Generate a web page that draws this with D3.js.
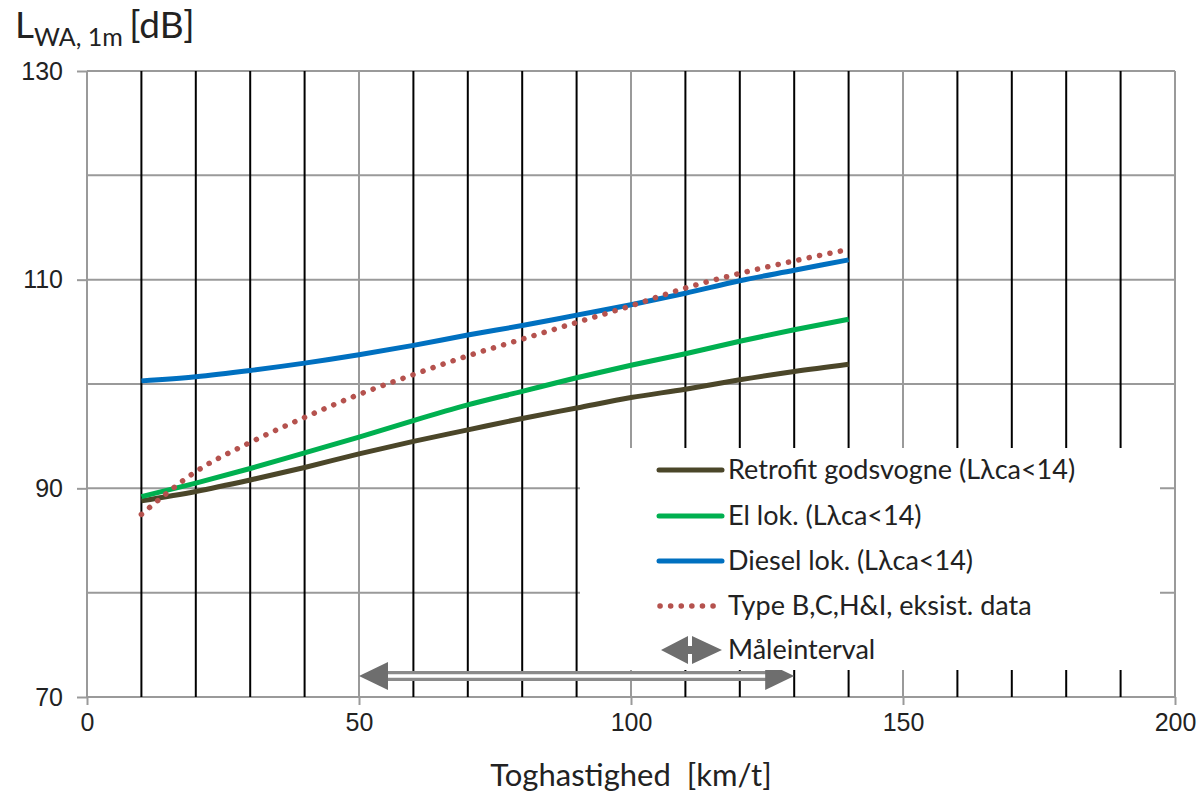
<!DOCTYPE html>
<html>
<head>
<meta charset="utf-8">
<script src="https://cdn.jsdelivr.net/npm/d3@7"></script>
<style>
  body { margin: 0; background: #fff; }
  svg { font-family: Lato, "Open Sans", sans-serif; }
</style>
</head>
<body>
<div id="chart"></div>
<script>
// speeds in km/t
const speeds = [10, 20, 30, 40, 50, 60, 70, 80, 90, 100, 110, 120, 130, 140];
const retrofit = [88.8, 89.7, 90.8, 92.0, 93.3, 94.5, 95.6, 96.7, 97.7, 98.7, 99.5, 100.4, 101.2, 101.9];
const elLok = [89.2, 90.5, 91.9, 93.4, 94.9, 96.5, 98.0, 99.3, 100.6, 101.8, 102.9, 104.1, 105.2, 106.2];
const dieselLok = [100.3, 100.7, 101.3, 102.0, 102.8, 103.7, 104.7, 105.6, 106.6, 107.6, 108.7, 109.9, 110.9, 111.9];
const typeBCHI = [87.5, 91.6, 94.4, 96.8, 99.0, 100.9, 102.7, 104.3, 105.9, 107.5, 109.2, 110.6, 111.8, 112.9];
const maaleinterval = [50, 130];

const xTicks = [0, 50, 100, 150, 200];
const xMinor = d3.range(10, 200, 10).filter(v => v % 50 !== 0);
const yTicks = [70, 90, 110, 130];
const yGrid = d3.range(70, 131, 10);

const seriesNames = ["Retrofit godsvogne (Lλca<14)", "El lok. (Lλca<14)", "Diesel lok. (Lλca<14)", "Type B,C,H&I, eksist. data"];
const seriesColors = ["#4b4629", "#00b050", "#0070c0", "#b5524e"];
const seriesValues = [retrofit, elLok, dieselLok, typeBCHI];

const width = 1202, height = 803;
const margin = {left: 87, top: 71, right: 27, bottom: 106};

const svg = d3.select("#chart").append("svg")
    .attr("width", width)
    .attr("height", height);

const x = d3.scaleLinear().domain([0, 200]).range([margin.left, width - margin.right]);
const y = d3.scaleLinear().domain([70, 130]).range([height - margin.bottom, margin.top]);

const grey = "#9a9a9a";

// horizontal gridlines
svg.append("g")
    .selectAll("line")
    .data(yGrid)
    .enter().append("line")
    .attr("x1", x(0)).attr("x2", x(200))
    .attr("y1", d => y(d)).attr("y2", d => y(d))
    .attr("stroke", grey)
    .attr("stroke-width", 2);

// grey verticals at 0/50/100/150/200
svg.append("g")
    .selectAll("line")
    .data(xTicks)
    .enter().append("line")
    .attr("x1", d => x(d)).attr("x2", d => x(d))
    .attr("y1", y(130)).attr("y2", y(70))
    .attr("stroke", grey)
    .attr("stroke-width", 2);

// black verticals every 10
svg.append("g")
    .selectAll("line")
    .data(xMinor)
    .enter().append("line")
    .attr("x1", d => x(d)).attr("x2", d => x(d))
    .attr("y1", y(130)).attr("y2", y(70))
    .attr("stroke", "#000")
    .attr("stroke-width", 2);

// axes
const yAxis = svg.append("g")
    .attr("transform", `translate(${x(0)},0)`)
    .call(d3.axisLeft(y).tickValues(yTicks).tickSize(10).tickPadding(14).tickFormat(d3.format("d")));
const xAxis = svg.append("g")
    .attr("transform", `translate(0,${y(70)})`)
    .call(d3.axisBottom(x).tickValues(xTicks).tickSize(8).tickPadding(8).tickFormat(d3.format("d")));
[xAxis, yAxis].forEach(a => {
    a.select(".domain").remove();
    a.selectAll("line").attr("stroke", grey).attr("stroke-width", 2);
    a.selectAll("text").attr("fill", "#222").style("font-size", "25px");
});

// series
const line = d3.line()
    .x((d, i) => x(speeds[i]))
    .y(d => y(d))
    .curve(d3.curveMonotoneX);

seriesValues.forEach((vals, i) => {
    const p = svg.append("path")
        .datum(vals)
        .attr("d", line)
        .attr("fill", "none")
        .attr("stroke", seriesColors[i])
        .attr("stroke-width", 5);
    if (i === 3) {
        p.attr("stroke-dasharray", "0.1 10.5").attr("stroke-linecap", "round").attr("stroke-width", 5.5);
    }
});

// measurement interval arrow
const arrowY = 676;
const ag = svg.append("g");
ag.append("line")
    .attr("x1", x(maaleinterval[0]) + 25).attr("x2", x(maaleinterval[1]) - 25)
    .attr("y1", arrowY).attr("y2", arrowY)
    .attr("stroke", "#8a8a8a").attr("stroke-width", 10);
ag.append("line")
    .attr("x1", x(maaleinterval[0]) + 25).attr("x2", x(maaleinterval[1]) - 25)
    .attr("y1", arrowY).attr("y2", arrowY)
    .attr("stroke", "#fff").attr("stroke-width", 3.5);
ag.append("path")
    .attr("d", `M${x(maaleinterval[0])},${arrowY} L${x(maaleinterval[0]) + 29},${arrowY - 14} L${x(maaleinterval[0]) + 29},${arrowY + 14} Z`)
    .attr("fill", "#6e6e6e");
ag.append("path")
    .attr("d", `M${x(maaleinterval[1])},${arrowY} L${x(maaleinterval[1]) - 29},${arrowY - 14} L${x(maaleinterval[1]) - 29},${arrowY + 14} Z`)
    .attr("fill", "#6e6e6e");

// legend
const legend = svg.append("g");
legend.append("rect")
    .attr("x", 580).attr("y", 448)
    .attr("width", 580).attr("height", 222)
    .attr("fill", "#fff");

const rowY = [470, 516, 561, 606, 650];
seriesNames.forEach((name, i) => {
    const l = legend.append("line")
        .attr("x1", 659).attr("x2", 722)
        .attr("y1", rowY[i]).attr("y2", rowY[i])
        .attr("stroke", seriesColors[i])
        .attr("stroke-width", 5)
        .attr("stroke-linecap", "round");
    if (i === 3) l.attr("stroke-dasharray", "0.1 10.5").attr("stroke-width", 5.5).attr("x1", 660);
    legend.append("text")
        .attr("x", 728).attr("y", rowY[i])
        .attr("dy", "0.35em")
        .style("font-size", "27px")
        .attr("fill", "#222")
        .text(name);
});
// interval icon
const iy = rowY[4];
legend.append("path")
    .attr("d", `M661,${iy} L688,${iy - 14} L688,${iy + 14} Z M722,${iy} L692,${iy - 14} L692,${iy + 14} Z`)
    .attr("fill", "#6e6e6e");
legend.append("rect")
    .attr("x", 686).attr("y", iy - 4).attr("width", 8).attr("height", 8)
    .attr("fill", "#6e6e6e");
legend.append("text")
    .attr("x", 728).attr("y", iy)
    .attr("dy", "0.35em")
    .style("font-size", "27px")
    .attr("fill", "#222")
    .text("Måleinterval");

// axis titles
const yt = svg.append("text")
    .attr("x", 15).attr("y", 38)
    .attr("fill", "#222")
    .style("font-size", "37px");
yt.append("tspan").text("L");
yt.append("tspan").attr("dy", 8).style("font-size", "25px").text("WA, 1m ");
yt.append("tspan").attr("dy", -8).text("[dB]");

svg.append("text")
    .attr("x", x(100)).attr("y", 786)
    .attr("text-anchor", "middle")
    .attr("fill", "#222")
    .style("font-size", "31px")
    .attr("xml:space", "preserve")
    .text("Toghastighed  [km/t]");
</script>
</body>
</html>
